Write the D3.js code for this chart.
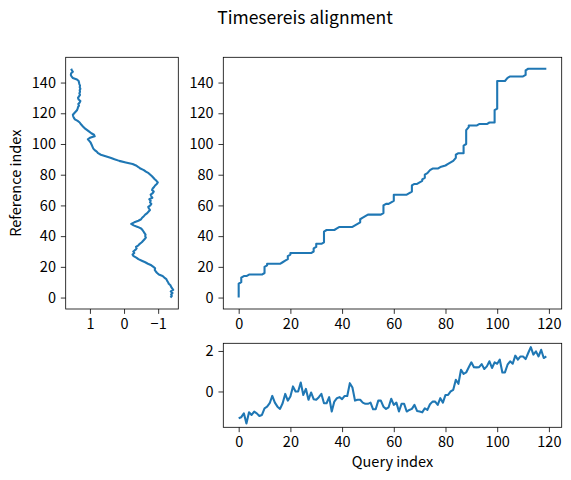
<!DOCTYPE html>
<html>
<head>
<meta charset="utf-8">
<script src="https://cdn.jsdelivr.net/npm/d3@7"></script>
<style>
  html, body { margin: 0; padding: 0; background: #fff; }
  svg { display: block; }
  text { font-family: "Noto Sans CJK JP", "DejaVu Sans", sans-serif; fill: #000; }
</style>
</head>
<body>
<svg id="chart" width="571" height="480"></svg>
<script>
// ---- data ----
const title = "Timesereis alignment";
const refLabel = "Reference index";
const queryLabel = "Query index";

// reference series (150 samples)
const reference = [
  -1.36,-1.40,-1.38,-1.42,-1.37,-1.44,-1.41,-1.38,-1.36,-1.31,
  -1.29,-1.26,-1.24,-1.18,-1.13,-1.02,-0.97,-0.93,-0.90,-0.91,
  -0.86,-0.80,-0.70,-0.62,-0.52,-0.42,-0.36,-0.28,-0.25,-0.30,
  -0.27,-0.33,-0.37,-0.35,-0.42,-0.46,-0.52,-0.56,-0.60,-0.64,
  -0.62,-0.63,-0.60,-0.57,-0.54,-0.50,-0.40,-0.28,-0.21,-0.30,
  -0.42,-0.50,-0.53,-0.58,-0.62,-0.68,-0.72,-0.76,-0.73,-0.71,
  -0.77,-0.80,-0.76,-0.78,-0.74,-0.83,-0.80,-0.78,-0.84,-0.87,
  -0.82,-0.84,-0.88,-0.91,-0.96,-0.99,-0.95,-0.90,-0.86,-0.82,
  -0.77,-0.72,-0.64,-0.58,-0.48,-0.42,-0.35,-0.25,-0.05,0.14,
  0.28,0.40,0.54,0.68,0.76,0.80,0.86,0.90,0.92,0.94,
  0.96,0.98,1.02,1.06,1.00,0.86,0.88,0.96,1.02,1.08,
  1.14,1.19,1.23,1.27,1.30,1.36,1.44,1.47,1.49,1.50,
  1.46,1.42,1.38,1.36,1.35,1.32,1.34,1.30,1.28,1.33,
  1.35,1.32,1.29,1.31,1.29,1.30,1.28,1.30,1.29,1.31,
  1.32,1.33,1.38,1.50,1.54,1.56,1.55,1.50,1.53,1.55
];

// query series (120 samples)
const query = [
  -1.32,-1.27,-1.08,-1.58,-1.03,-1.16,-0.99,-1.08,-1.21,-1.16,
  -0.83,-0.75,-0.58,-0.22,-0.55,-0.75,-0.86,-0.58,-0.12,-0.45,
  -0.25,0.25,0.00,0.00,0.44,-0.17,0.13,-0.41,-0.05,-0.38,
  -0.41,-0.28,-0.12,-0.58,-0.58,-0.28,-0.99,-0.50,-0.33,-0.28,
  -0.38,-0.22,-0.22,0.41,0.20,-0.45,-0.41,-0.41,-0.55,-0.61,
  -0.61,-0.55,-0.88,-0.88,-0.45,-0.45,-0.75,-0.86,-0.78,-0.36,
  -0.66,-0.55,-0.99,-0.61,-0.61,-0.99,-0.91,-0.86,-0.66,-0.96,
  -0.99,-1.03,-0.83,-0.91,-0.63,-0.50,-0.50,-0.66,-0.33,-0.55,
  -0.17,-0.17,0.00,0.08,0.58,0.38,1.07,0.87,0.94,1.20,
  1.44,1.20,1.19,1.20,1.35,1.11,1.24,1.49,1.16,1.44,
  1.37,1.57,0.94,0.94,1.32,1.49,1.37,1.77,1.57,1.73,
  1.73,1.60,1.90,2.19,1.82,1.98,1.73,2.06,1.65,1.73
];

// warping path vertices (query index, reference index)
const pathQuery = [0,0,1,1,2,3,4,9,10,10,11,11,16,17,18,19,19,20,20,28,29,29,30,30,32,33,33,34,37,38,39,44,45,46,47,47,48,49,50,55,56,56,57,58,59,60,60,65,66,67,67,68,69,70,71,71,72,72,73,74,75,77,78,80,81,82,83,84,84,85,87,87,88,88,89,89,92,93,96,97,99,99,100,100,103,104,105,110,111,111,112,119];
const pathRef   = [0,9,10,13,14,14,15,15,16,20,21,22,22,23,24,25,27,28,29,29,30,32,33,35,35,36,43,44,44,45,46,46,47,48,49,51,52,53,54,54,55,60,61,61,62,63,67,67,68,69,73,74,74,75,76,77,78,80,81,83,84,84,85,86,87,88,89,91,93,94,94,99,100,109,111,112,112,113,113,114,114,122,123,141,141,143,144,144,145,148,149,149];

const refTicks = [0,20,40,60,80,100,120,140];
const queryTicks = [0,20,40,60,80,100,120];
const refValueTicks = [1,0,-1];
const queryValueTicks = [0,2];

// ---- layout ----
const svg = d3.select("#chart");
const C = "#1f77b4";
const tickLen = 4.86, tickPad = 4.86, fs = 14.5;
const fmt = d3.format("d");

const L = {x0:65.7, x1:178.3, y0:57.3, y1:309};
const M = {x0:223.3, x1:561.7, y0:57.3, y1:309};
const B = {x0:223.3, x1:561.7, y0:343.3, y1:427.3};

function padded(ext){ const d=(ext[1]-ext[0])*0.05; return [ext[0]-d, ext[1]+d]; }

const refIdxDom = padded([0, reference.length-1]);
const qIdxDom = padded([0, query.length-1]);

const yRef = d3.scaleLinear().domain(refIdxDom).range([L.y1, L.y0]);
const xRefVal = d3.scaleLinear().domain(padded(d3.extent(reference)).reverse()).range([L.x0, L.x1]);
const xQ = d3.scaleLinear().domain(qIdxDom).range([M.x0, M.x1]);
const yM = d3.scaleLinear().domain(refIdxDom).range([M.y1, M.y0]);
const yQVal = d3.scaleLinear().domain(padded(d3.extent(query))).range([B.y1, B.y0]);

function styleAxis(g){
  g.select(".domain").remove();
  g.selectAll(".tick line").attr("stroke","#000").attr("stroke-width",0.8);
  g.selectAll(".tick text").style("font-size", fs+"px").attr("fill","#000")
   .style("font-family",'"Noto Sans CJK JP", "DejaVu Sans", sans-serif');
}
function frame(b){
  svg.append("rect").attr("x",b.x0).attr("y",b.y0).attr("width",b.x1-b.x0).attr("height",b.y1-b.y0)
    .attr("fill","none").attr("stroke","#000").attr("stroke-width",0.8);
}
function ax(fn, scale, ticks){
  return fn(scale).tickValues(ticks).tickFormat(fmt).tickSize(tickLen).tickPadding(tickPad);
}

// left panel: reference vertical
svg.append("path").datum(reference)
  .attr("fill","none").attr("stroke",C).attr("stroke-width",2.08).attr("stroke-linejoin","round")
  .attr("d", d3.line().x(d=>xRefVal(d)).y((d,i)=>yRef(i)));
svg.append("g").attr("transform",`translate(0,${L.y1})`)
  .call(ax(d3.axisBottom, xRefVal, refValueTicks)).call(styleAxis);
svg.append("g").attr("transform",`translate(${L.x0},0)`)
  .call(ax(d3.axisLeft, yRef, refTicks)).call(styleAxis);
frame(L);

// main panel: warping path
const pathPts = pathQuery.map((q,i)=>[q, pathRef[i]]);
svg.append("path").datum(pathPts)
  .attr("fill","none").attr("stroke",C).attr("stroke-width",2.08).attr("stroke-linejoin","round")
  .attr("d", d3.line().x(d=>xQ(d[0])).y(d=>yM(d[1])));
svg.append("g").attr("transform",`translate(0,${M.y1})`)
  .call(ax(d3.axisBottom, xQ, queryTicks)).call(styleAxis);
svg.append("g").attr("transform",`translate(${M.x0},0)`)
  .call(ax(d3.axisLeft, yM, refTicks)).call(styleAxis);
frame(M);

// bottom panel: query
svg.append("path").datum(query)
  .attr("fill","none").attr("stroke",C).attr("stroke-width",2.08).attr("stroke-linejoin","round")
  .attr("d", d3.line().x((d,i)=>xQ(i)).y(d=>yQVal(d)));
const xQB = xQ.copy().range([B.x0, B.x1]);
svg.append("g").attr("transform",`translate(0,${B.y1})`)
  .call(ax(d3.axisBottom, xQB, queryTicks)).call(styleAxis);
svg.append("g").attr("transform",`translate(${B.x0},0)`)
  .call(ax(d3.axisLeft, yQVal, queryValueTicks)).call(styleAxis);
frame(B);

// labels
svg.append("text").attr("x",305).attr("y",24).attr("text-anchor","middle")
  .style("font-size","17.5px").text(title);
svg.append("text").attr("transform",`translate(21,${(L.y0+L.y1)/2}) rotate(-90)`)
  .attr("text-anchor","middle").style("font-size",fs+"px").text(refLabel);
svg.append("text").attr("x",(B.x0+B.x1)/2).attr("y",467).attr("text-anchor","middle")
  .style("font-size",fs+"px").text(queryLabel);
</script>
</body>
</html>
